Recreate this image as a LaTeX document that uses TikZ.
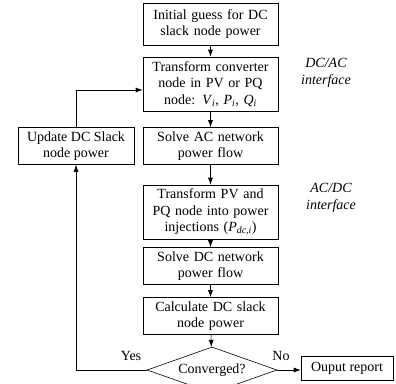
\documentclass[tikz,border=0pt]{standalone}
\usepackage{fontspec}
\setmainfont{Liberation Serif}
\usetikzlibrary{shapes.geometric, arrows.meta}

\newcommand{\flowfont}{\fontsize{14}{16.5}\selectfont}

\tikzset{
    stepbox/.style={draw, semithick, align=center, inner sep=1pt, minimum width=135pt, text width=133pt},
    sidebox/.style={draw, semithick, align=center, inner sep=1pt},
    testbox/.style={draw, semithick, diamond, aspect=3, inner sep=0pt, minimum width=130pt, minimum height=46pt},
    note/.style={font=\flowfont\itshape, align=center},
    flow/.style={-{Latex[length=7pt, width=5pt]}, semithick}
}

\begin{document}
\begin{tikzpicture}[x=1pt, y=-1pt, font=\flowfont]
    \useasboundingbox (0,0) rectangle (396,383);

    % Main column
    \node[stepbox, minimum height=42pt] (init) at (210.5,24) {Initial guess for DC\\slack node power};
    \node[stepbox, minimum height=54pt] (trans) at (210.5,84) {Transform converter\\node in PV or PQ\\node: \textit{V}\textsubscript{\textit{i}}, \textit{P}\textsubscript{\textit{i}}, \textit{Q}\textsubscript{\textit{i}}};
    \node[stepbox, minimum height=37pt] (solveac) at (210.5,146) {Solve AC network\\power flow};
    \node[stepbox, minimum height=54pt] (inject) at (210.5,212) {Transform PV and\\PQ node into power\\injections (\textit{P}\textsubscript{\textit{dc,i}})};
    \node[stepbox, minimum height=37pt] (solvedc) at (210.5,266) {Solve DC network\\power flow};
    \node[stepbox, minimum height=37pt] (calc) at (210.5,316) {Calculate DC slack\\node power};
    \node[testbox] (conv) at (212,370) {Converged?};

    % Side boxes
    \node[sidebox, minimum width=116pt, minimum height=37pt] (update) at (76,146) {Update DC Slack\\node power};
    \node[sidebox, minimum width=92pt, minimum height=24pt] (report) at (347,368) {Ouput report};

    % Interface notes
    \node[note] (dcac) at (326,73) {DC/AC\\interface};
    \node[note] (acdc) at (331,198) {AC/DC\\interface};

    % Arrows down the column
    \draw[flow] (init) -- (trans);
    \draw[flow] (trans) -- (solveac);
    \draw[flow] (solveac) -- (inject);
    \draw[flow] (inject) -- (solvedc);
    \draw[flow] (solvedc) -- (calc);
    \draw[flow] (calc) -- (conv);

    % Loop back and exit
    \draw[flow] (conv.west) -| (update.south);
    \draw[flow] (update.north) |- ([yshift=-6pt]trans.west);
    \draw[flow] (conv.east) -- (report.west |- conv.east);

    % Branch labels
    \node (yes) at (131,356) {Yes};
    \node (no) at (281,356) {No};
\end{tikzpicture}
\end{document}
